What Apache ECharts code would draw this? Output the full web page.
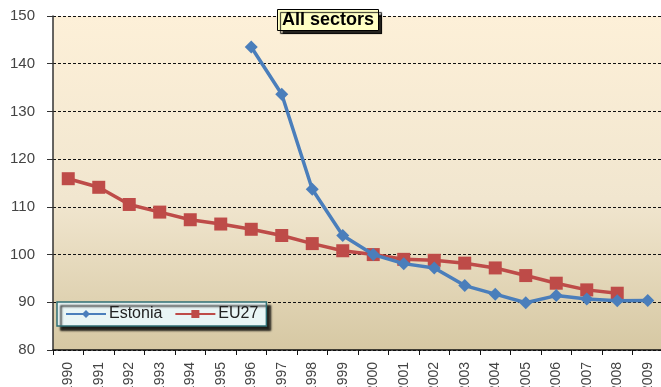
<!DOCTYPE html>
<html>
<head>
<meta charset="utf-8">
<script src="https://cdn.jsdelivr.net/npm/echarts@6/dist/echarts.min.js"></script>
<style>
  html, body { margin: 0; padding: 0; background: #fff; }
  #chart { width: 661px; height: 387px; }
</style>
</head>
<body>
<div id="chart"></div>
<script>
// years on the x axis
let years = ['1990','1991','1992','1993','1994','1995','1996','1997','1998','1999',
  '2000','2001','2002','2003','2004','2005','2006','2007','2008','2009']
// Estonia starts in 1996
let estonia = [null,null,null,null,null,null,143.5,133.6,113.7,104.0,
  100,98.1,97.2,93.5,91.7,89.9,91.4,90.7,90.3,90.4]
let eu27 = [115.9,114.1,110.5,108.9,107.3,106.4,105.3,104.0,102.3,100.8,
  100,99.0,98.8,98.2,97.2,95.6,94.0,92.6,91.9,null]
let yTicks = [80,150,10] // min, max, step

let chart = echarts.init(document.getElementById('chart'))

let option = {
  animation: false,
  title: {
    text: 'All sectors',
    left: 277,
    top: 9,
    padding: [2, 5, 2, 5],
    backgroundColor: '#ffffc4',
    borderColor: '#000',
    borderWidth: 1,
    shadowColor: 'rgba(0,0,0,0.85)',
    shadowOffsetX: 3,
    shadowOffsetY: 3,
    shadowBlur: 1,
    textStyle: {
      fontFamily: 'Liberation Sans, Arial',
      fontSize: 18,
      fontWeight: 'bold',
      color: '#000'
    }
  },
  legend: {
    left: 57,
    top: 302,
    padding: [4, 8, 4, 8],
    itemWidth: 40,
    itemHeight: 10,
    itemGap: 12,
    backgroundColor: '#e9f5f5',
    borderColor: '#2f6f74',
    borderWidth: 1.5,
    shadowColor: 'rgba(0,0,0,0.85)',
    shadowOffsetX: 4,
    shadowOffsetY: 4,
    shadowBlur: 2,
    textStyle: {
      fontFamily: 'Liberation Sans, Arial',
      fontSize: 16,
      color: '#222',
      padding: [0, 0, 0, -2]
    },
    data: ['Estonia', 'EU27']
  },
  grid: {
    left: 53,
    top: 16,
    width: 610,
    height: 334,
    outerBoundsMode: 'none',
    show: true,
    borderWidth: 0,
    backgroundColor: new echarts.graphic.LinearGradient(0, 0, 0, 1, [
      { offset: 0, color: '#fdf0d8' },
      { offset: 0.55, color: '#f1e6cf' },
      { offset: 1, color: '#d6c8a3' }
    ])
  },
  xAxis: {
    type: 'category',
    data: years,
    boundaryGap: true,
    axisLine: { lineStyle: { color: '#111', width: 1.5 } },
    axisTick: { show: true, length: 5, lineStyle: { color: '#111' } },
    axisLabel: {
      rotate: 90,
      interval: 0,
      margin: 12,
      fontFamily: 'Liberation Sans, Arial',
      fontSize: 14,
      color: '#444'
    }
  },
  yAxis: {
    type: 'value',
    min: yTicks[0],
    max: yTicks[1],
    interval: yTicks[2],
    axisLine: { show: true, lineStyle: { color: '#333', width: 1.5 } },
    axisTick: { show: true, length: 6, lineStyle: { color: '#333' } },
    splitLine: { lineStyle: { color: '#111', type: [3, 2], width: 1 } },
    axisLabel: {
      margin: 18,
      fontFamily: 'Liberation Sans, Arial',
      fontSize: 15,
      color: '#444'
    }
  },
  series: [
    {
      name: 'Estonia',
      type: 'line',
      data: estonia,
      symbol: 'diamond',
      symbolSize: 13,
      lineStyle: { color: '#4a7ebb', width: 3.5 },
      itemStyle: { color: '#4a7ebb' },
      z: 3
    },
    {
      name: 'EU27',
      type: 'line',
      data: eu27,
      symbol: 'rect',
      symbolSize: 13,
      lineStyle: { color: '#be4b48', width: 3.5 },
      itemStyle: { color: '#be4b48' },
      z: 2
    }
  ]
}
chart.setOption(option)
</script>
</body>
</html>
